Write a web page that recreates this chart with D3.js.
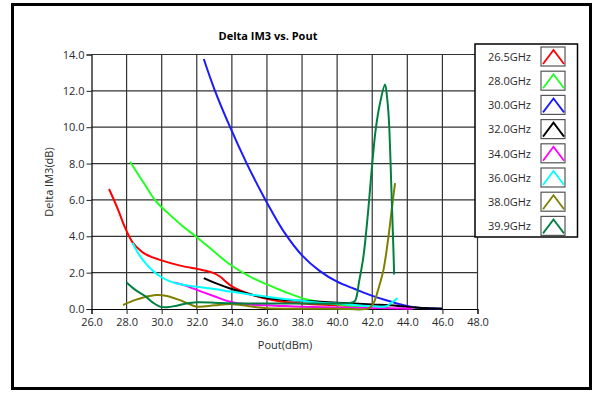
<!DOCTYPE html>
<html>
<head>
<meta charset="utf-8">
<script src="https://cdn.jsdelivr.net/npm/d3@7"></script>
<style>
  body { margin: 0; background: #fff; }
  svg { font-family: "Open Sans", sans-serif; }
</style>
</head>
<body>
<svg id="chart" width="598" height="394"></svg>
<script>
// values
const freqLabels = ["26.5GHz", "28.0GHz", "30.0GHz", "32.0GHz", "34.0GHz", "36.0GHz", "38.0GHz", "39.9GHz"];
const colors = ["#ff0000", "#22ff22", "#1a1aff", "#000000", "#ff00ff", "#00ffff", "#808000", "#008040"];

const pout265 = [27.0, 27.5, 27.9, 28.35, 28.8, 29.1, 29.9, 31.0, 32.3, 32.9, 33.3, 34.0, 35.2, 36.3, 38.0, 40.0, 42.0, 43.0];
const dim265  = [6.6, 5.5, 4.5, 3.65, 3.2, 3.0, 2.7, 2.4, 2.15, 2.0, 1.8, 1.25, 0.77, 0.5, 0.3, 0.2, 0.1, 0.05];

const pout28 = [28.2, 29.0, 29.7, 30.5, 31.2, 32.0, 33.0, 33.9, 35.0, 36.0, 37.0, 38.0, 39.0, 40.0, 41.0, 42.0, 43.0];
const dim28  = [8.1, 6.9, 5.9, 5.15, 4.55, 3.95, 3.15, 2.45, 1.8, 1.35, 0.95, 0.6, 0.38, 0.25, 0.15, 0.1, 0.05];

const pout30 = [32.4, 33.0, 33.9, 34.85, 35.8, 36.2, 37.0, 38.0, 39.0, 40.0, 41.0, 41.85, 42.8, 43.75, 44.5, 46.0];
const dim30  = [13.75, 12.1, 10.0, 8.0, 6.2, 5.5, 4.2, 2.95, 2.1, 1.5, 1.1, 0.78, 0.48, 0.22, 0.08, 0.02];

const pout32 = [32.4, 33.0, 33.9, 35.2, 36.0, 37.0, 38.0, 40.0, 42.0, 43.0, 44.0, 45.0, 46.0];
const dim32  = [1.7, 1.45, 1.13, 0.77, 0.6, 0.5, 0.45, 0.35, 0.25, 0.2, 0.12, 0.05, 0.02];

const pout34 = [30.7, 31.3, 32.0, 33.0, 33.9, 35.0, 36.0, 36.7, 38.0, 40.0, 42.0, 44.3];
const dim34  = [1.46, 1.3, 1.05, 0.7, 0.4, 0.25, 0.2, 0.17, 0.12, 0.08, 0.05, 0.02];

const pout36 = [28.35, 28.7, 29.1, 29.5, 29.9, 30.4, 30.8, 32.0, 33.0, 33.9, 35.0, 36.0, 37.0, 38.0, 39.0, 40.0, 41.0, 42.0, 42.8, 43.1, 43.45];
const dim36  = [3.63, 3.0, 2.5, 2.1, 1.8, 1.55, 1.42, 1.22, 1.1, 0.96, 0.8, 0.68, 0.55, 0.45, 0.35, 0.3, 0.22, 0.15, 0.15, 0.35, 0.6];

const pout38 = [27.8, 28.5, 29.0, 29.7, 30.3, 31.0, 31.5, 32.0, 33.0, 33.9, 35.0, 36.0, 38.0, 40.0, 41.8, 42.07, 42.35, 42.64, 42.9, 43.11, 43.3];
const dim38  = [0.22, 0.5, 0.65, 0.77, 0.72, 0.5, 0.3, 0.13, 0.2, 0.28, 0.15, 0.04, 0.02, 0.02, 0.03, 0.31, 1.1, 2.15, 3.8, 5.45, 6.92];

const pout399 = [28.0, 28.5, 29.1, 29.5, 29.9, 30.3, 30.8, 31.4, 32.0, 33.0, 33.9, 35.0, 36.0, 38.0, 40.0, 40.8, 41.02, 41.25, 41.5, 41.75, 41.97, 42.2, 42.45, 42.73, 42.85, 42.95, 43.1, 43.2, 43.25];
const dim399  = [1.46, 1.05, 0.68, 0.35, 0.13, 0.1, 0.17, 0.3, 0.37, 0.35, 0.31, 0.3, 0.3, 0.3, 0.3, 0.35, 0.45, 1.5, 2.9, 5.2, 7.65, 9.9, 11.35, 12.35, 11.6, 10.4, 6.4, 3.5, 1.9];

const xTicks = [26, 28, 30, 32, 34, 36, 38, 40, 42, 44, 46, 48];
const yTicks = [0, 2, 4, 6, 8, 10, 12, 14];

const seriesX = [pout265, pout28, pout30, pout32, pout34, pout36, pout38, pout399];
const seriesY = [dim265, dim28, dim30, dim32, dim34, dim36, dim38, dim399];

const data = freqLabels.map((name, i) => ({
    name: name,
    color: colors[i],
    points: seriesX[i].map((x, j) => ({x: x, y: seriesY[i][j]}))
}));

const margin = {top: 54.5, left: 91.5};
const width = 386, height = 254.5;

const svg = d3.select("#chart");

// outer frame
svg.append("rect")
    .attr("x", 12.5).attr("y", 4.5)
    .attr("width", 578).attr("height", 384)
    .attr("fill", "none")
    .attr("stroke", "#000")
    .attr("stroke-width", 3);

const xScale = d3.scaleLinear().domain([26, 48]).range([0, width]);
const yScale = d3.scaleLinear().domain([0, 14]).range([height, 0]);

const g = svg.append("g").attr("transform", `translate(${margin.left}, ${margin.top})`);

// grid
g.append("g").selectAll("line")
    .data(xTicks.slice(1))
    .join("line")
    .attr("x1", d => xScale(d)).attr("x2", d => xScale(d))
    .attr("y1", 0).attr("y2", height)
    .attr("stroke", "#333").attr("stroke-width", 1.2);

g.append("g").selectAll("line")
    .data(yTicks.slice(1))
    .join("line")
    .attr("x1", 0).attr("x2", width)
    .attr("y1", d => yScale(d)).attr("y2", d => yScale(d))
    .attr("stroke", "#333").attr("stroke-width", 1.2);

// axes
const minorX = d3.range(26, 48.01, 0.5).filter(d => d % 2 !== 0);
const minorY = d3.range(0, 14.01, 0.5).filter(d => d % 2 !== 0);

const xAxis = g.append("g").attr("transform", `translate(0, ${height})`);
xAxis.call(d3.axisBottom(xScale).tickValues(minorX).tickSize(3).tickFormat(""));
xAxis.call(d3.axisBottom(xScale).tickValues(xTicks).tickSize(5).tickPadding(4).tickFormat(d3.format(".1f")));

const yAxis = g.append("g");
yAxis.call(d3.axisLeft(yScale).tickValues(minorY).tickSize(3).tickFormat(""));
yAxis.call(d3.axisLeft(yScale).tickValues(yTicks).tickSize(5).tickPadding(2).tickFormat(d3.format(".1f")));

svg.selectAll(".domain").attr("stroke", "#000").attr("stroke-width", 1.2);
svg.selectAll(".tick line").attr("stroke", "#222");
svg.selectAll(".tick text").attr("font-size", "11px").attr("fill", "#2a2a2a")
    .attr("font-family", "Open Sans, sans-serif");

// lines
const line = d3.line()
    .x(d => xScale(d.x))
    .y(d => yScale(d.y))
    .curve(d3.curveCatmullRom.alpha(0.5));

g.append("g").selectAll("path")
    .data(data)
    .join("path")
    .attr("d", d => line(d.points))
    .attr("fill", "none")
    .attr("stroke", d => d.color)
    .attr("stroke-width", 2);

// titles
svg.append("text")
    .attr("x", 268).attr("y", 40)
    .attr("text-anchor", "middle")
    .attr("font-size", "11px").attr("font-weight", "bold")
    .text("Delta IM3 vs. Pout");

svg.append("text")
    .attr("x", 285).attr("y", 349)
    .attr("text-anchor", "middle")
    .attr("font-size", "11px").attr("fill", "#2a2a2a")
    .text("Pout(dBm)");

svg.append("text")
    .attr("transform", "translate(53, 182) rotate(-90)")
    .attr("text-anchor", "middle")
    .attr("font-size", "11px").attr("fill", "#2a2a2a")
    .text("Delta IM3(dB)");

// legend
const legend = svg.append("g").attr("transform", "translate(475, 44)");
legend.append("rect")
    .attr("width", 102.5).attr("height", 193)
    .attr("fill", "#fff")
    .attr("stroke", "#000").attr("stroke-width", 1.5);

const rows = legend.selectAll("g.row")
    .data(data)
    .join("g")
    .attr("class", "row")
    .attr("transform", (d, i) => `translate(0, ${3 + i * 24.2})`);

rows.append("text")
    .attr("x", 56).attr("y", 10)
    .attr("dy", "0.35em")
    .attr("text-anchor", "end")
    .attr("font-size", "11px").attr("fill", "#2a2a2a")
    .text(d => d.name);

rows.append("rect")
    .attr("x", 66).attr("y", 0)
    .attr("width", 24).attr("height", 19)
    .attr("fill", "#fff")
    .attr("stroke", "#555").attr("stroke-width", 1.2);

rows.append("path")
    .attr("d", "M68,17L78.5,3L89,17")
    .attr("fill", "none")
    .attr("stroke", d => d.color)
    .attr("stroke-width", 1.8);
</script>
</body>
</html>
